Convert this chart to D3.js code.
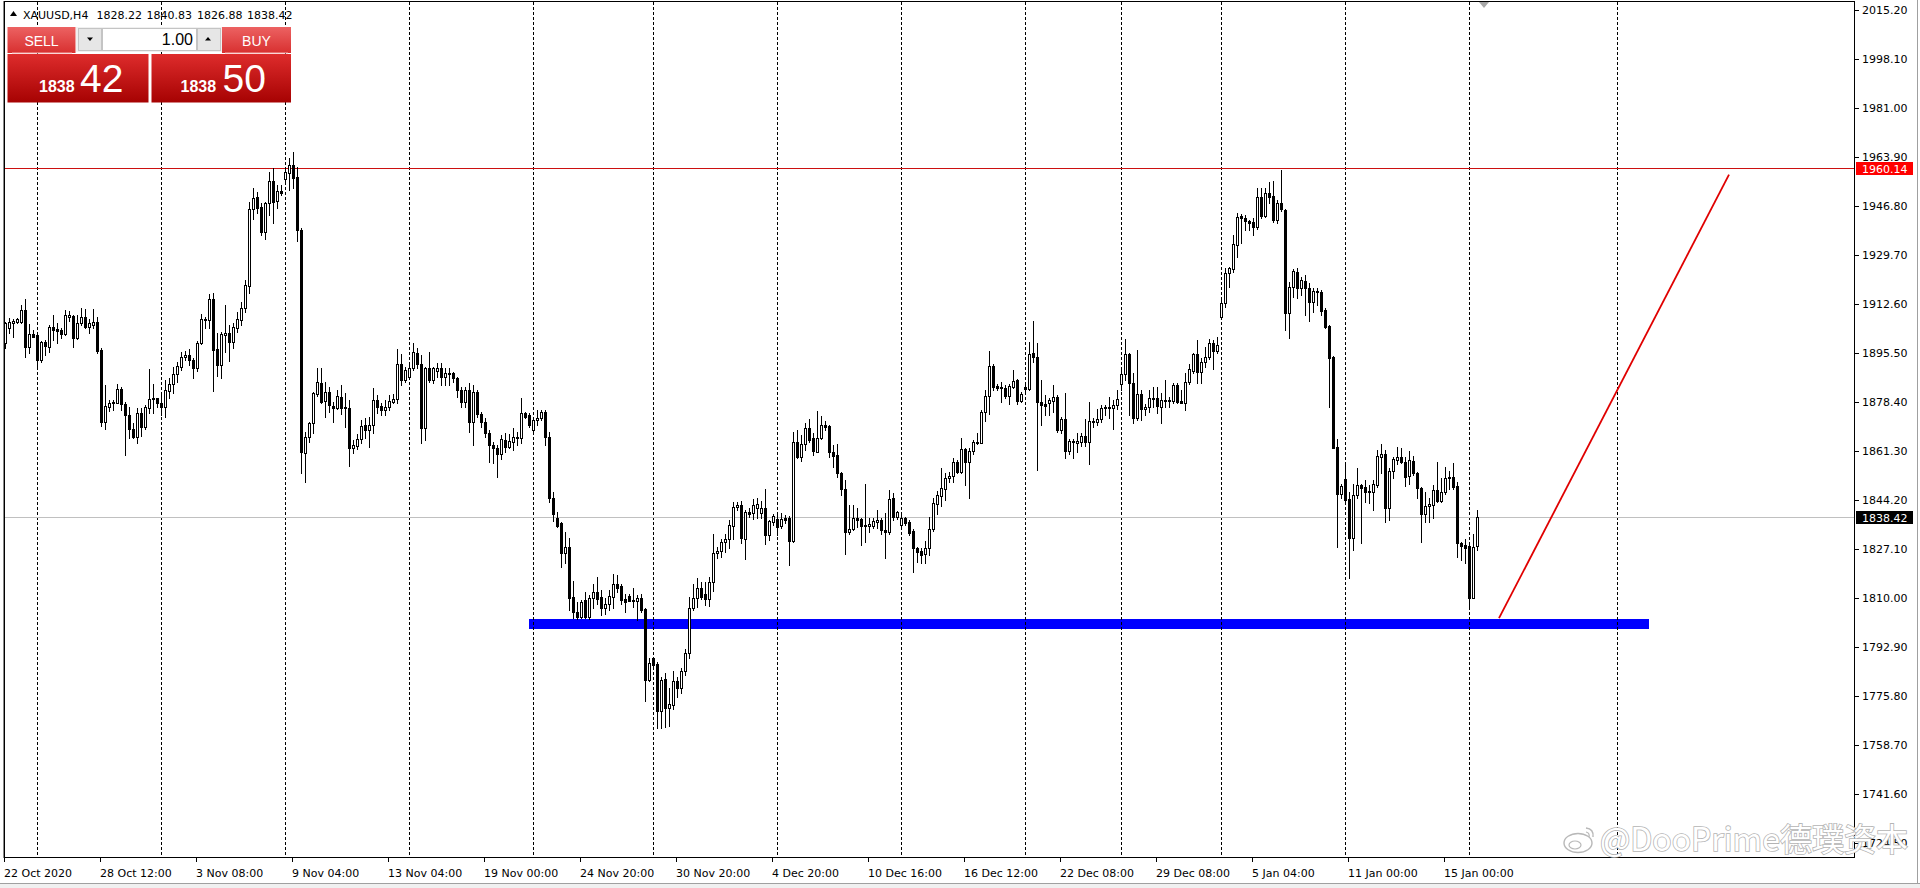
<!DOCTYPE html>
<html>
<head>
<meta charset="utf-8">
<script src="https://cdn.jsdelivr.net/npm/d3@7/dist/d3.min.js"></script>
<style>
  html, body { margin:0; padding:0; background:#fff; overflow:hidden; }
  svg { display:block; }
</style>
</head>
<body>
<svg id="chart" width="1920" height="888"></svg>
<script>
// ---------------- DATA ----------------
const symbol = "XAUUSD,H4";
const lastBarOHLC = ["1828.22", "1840.83", "1826.88", "1838.42"];
const lotSize = "1.00";
const bidPrice = ["1838", "42"];
const askPrice = ["1838", "50"];

const opens = [
1898.9,1904.2,1906.1,1906.5,1906.5,1910.6,1897.8,1902.1,1901.8,1893.1,
1899.5,1897.8,1904.7,1903.8,1903.6,1902.2,1908.2,1908.5,1900.7,1905.9,
1908.2,1904.7,1905.3,1906.5,1896.6,1871.6,1876.8,1878.0,1878.2,1882.9,
1877.8,1873.9,1868.9,1866.3,1874.5,1869.8,1876.2,1879.7,1879.7,1878.2,
1876.8,1882.4,1884.9,1888.2,1890.8,1894.0,1894.8,1893.1,1890.2,1898.9,
1907.0,1907.2,1914.4,1896.9,1891.4,1901.8,1902.4,1899.5,1904.4,1907.0,
1911.1,1919.1,1945.8,1950.1,1946.6,1937.9,1947.8,1955.6,1948.6,1952.1,
1956.3,1958.3,1961.0,1956.9,1938.5,1860.5,1866.3,1871.0,1881.1,1885.0,
1878.8,1882.0,1877.2,1876.5,1880.3,1876.8,1876.5,1862.5,1863.2,1865.5,
1870.4,1868.7,1870.6,1879.1,1877.2,1875.7,1876.8,1878.6,1879.5,1891.6,
1886.1,1887.3,1890.2,1895.4,1891.6,1869.3,1890.2,1886.1,1889.3,1890.2,
1887.3,1888.5,1888.5,1886.9,1882.6,1878.6,1882.6,1871.4,1881.8,1874.1,
1871.4,1867.8,1863.6,1862.5,1860.2,1865.2,1862.9,1864.6,1865.8,1865.8,
1874.5,1873.9,1868.7,1872.2,1873.0,1874.8,1866.3,1845.0,1838.1,1836.1,
1825.6,1827.9,1810.5,1805.3,1803.5,1809.3,1803.5,1809.9,1812.2,1810.5,
1806.4,1808.1,1810.5,1815.1,1814.2,1809.7,1810.8,1809.3,1809.0,1810.2,
1806.2,1781.4,1789.0,1786.9,1770.6,1781.8,1771.8,1772.7,1781.0,1778.5,
1784.5,1790.7,1806.4,1810.2,1813.6,1811.3,1809.7,1815.5,1825.6,1826.5,
1829.5,1830.6,1835.3,1841.7,1842.5,1830.6,1840.2,1839.6,1841.3,1839.6,
1841.3,1832.0,1836.7,1837.6,1835.3,1838.0,1838.0,1829.9,1864.4,1859.4,
1863.7,1869.5,1865.8,1861.1,1866.0,1870.4,1870.2,1860.9,1859.9,1853.5,
1848.1,1833.2,1834.1,1838.1,1837.6,1835.5,1835.3,1835.3,1836.7,1837.2,
1833.8,1833.0,1844.8,1838.4,1835.5,1838.1,1836.7,1833.4,1827.4,1826.4,
1825.3,1827.4,1834.1,1842.7,1845.7,1848.1,1851.8,1852.7,1857.6,1854.1,
1862.0,1857.6,1861.3,1864.0,1864.0,1874.8,1880.7,1891.1,1884.2,1883.8,
1883.4,1880.7,1883.8,1886.1,1878.8,1883.8,1883.0,1895.4,1894.3,1878.3,
1877.6,1878.0,1878.8,1880.3,1868.7,1872.5,1861.3,1864.8,1864.0,1864.6,
1866.7,1864.6,1871.6,1871.6,1872.5,1876.8,1876.8,1876.2,1877.4,1884.7,
1888.2,1895.2,1885.0,1872.7,1881.2,1875.9,1876.6,1879.4,1879.7,1876.8,
1879.1,1878.9,1878.9,1884.4,1878.9,1878.2,1885.5,1889.4,1895.2,1889.0,
1892.5,1894.0,1898.9,1896.3,1908.2,1912.9,1923.4,1924.8,1933.2,1943.4,
1942.6,1941.7,1941.4,1939.6,1950.1,1943.4,1951.5,1950.3,1942.0,1948.0,
1945.5,1909.6,1918.5,1924.0,1918.1,1920.7,1918.4,1913.5,1917.2,1916.9,
1910.6,1905.1,1894.3,1862.9,1846.2,1851.5,1844.6,1830.9,1846.0,1849.5,
1848.9,1847.3,1846.9,1849.5,1859.4,1860.2,1841.5,1854.4,1858.3,1859.4,
1857.6,1852.7,1857.8,1853.5,1848.5,1839.2,1842.3,1842.5,1847.7,1843.9,
1846.9,1852.0,1852.4,1849.2,1829.1,1828.5,1828.3,1810.1,1828.22
];
const highs = [
1906.5,1907.6,1907.3,1907.6,1912.3,1914.3,1905.7,1903.6,1902.4,1899.9,
1900.1,1905.3,1908.8,1906.1,1904.2,1910.6,1910.3,1908.9,1908.8,1911.1,
1910.8,1907.3,1910.8,1908.2,1897.2,1884.4,1879.1,1879.1,1884.9,1883.8,
1878.6,1876.8,1871.0,1876.2,1876.2,1877.4,1889.8,1884.9,1880.0,1881.5,
1886.1,1886.7,1890.5,1892.5,1896.0,1896.4,1897.0,1893.7,1899.7,1909.0,
1908.2,1916.0,1916.4,1902.4,1902.8,1912.3,1905.3,1905.9,1910.0,1913.5,
1921.0,1948.4,1953.0,1951.9,1947.8,1948.4,1958.6,1960.2,1954.2,1954.2,
1960.0,1963.5,1965.6,1960.6,1939.1,1868.1,1871.6,1882.1,1890.2,1890.2,
1885.3,1883.8,1878.6,1882.6,1884.4,1881.5,1879.1,1865.2,1867.2,1872.2,
1872.7,1873.3,1883.4,1880.9,1878.0,1879.1,1880.9,1881.1,1896.9,1895.1,
1890.8,1891.9,1898.9,1897.2,1894.9,1890.8,1895.8,1890.8,1891.9,1891.9,
1890.2,1890.2,1889.0,1887.3,1883.8,1883.8,1885.0,1884.4,1882.6,1875.1,
1872.7,1868.7,1864.6,1863.4,1866.9,1867.5,1867.2,1869.3,1868.1,1879.7,
1875.1,1874.5,1873.3,1875.7,1875.7,1875.7,1868.1,1847.0,1840.2,1836.7,
1833.2,1830.9,1816.0,1808.7,1809.3,1812.0,1811.1,1815.1,1817.5,1812.8,
1809.9,1812.8,1818.3,1818.1,1814.8,1811.6,1811.3,1813.6,1811.1,1811.3,
1806.7,1789.0,1789.6,1787.8,1782.6,1783.8,1778.5,1784.5,1782.6,1785.7,
1792.2,1810.5,1815.1,1817.1,1815.5,1815.7,1817.5,1832.3,1827.9,1830.6,
1832.3,1837.3,1843.6,1843.6,1843.9,1840.8,1841.3,1844.6,1845.0,1843.9,
1848.1,1837.3,1839.2,1839.6,1839.6,1839.0,1838.8,1867.9,1868.7,1866.9,
1871.0,1872.5,1867.5,1875.3,1873.7,1871.8,1870.6,1863.4,1863.7,1854.1,
1851.2,1842.5,1842.5,1841.3,1837.8,1849.7,1837.8,1837.8,1840.8,1838.1,
1839.6,1847.7,1846.6,1840.4,1839.0,1838.4,1837.3,1834.1,1827.9,1827.4,
1830.0,1838.4,1845.0,1847.4,1855.5,1853.5,1854.1,1858.8,1858.2,1866.0,
1862.5,1862.3,1865.2,1867.8,1875.6,1882.6,1896.2,1891.6,1884.9,1885.5,
1884.4,1884.9,1889.6,1886.5,1881.8,1884.4,1899.5,1906.7,1898.9,1886.1,
1880.9,1879.7,1884.4,1880.9,1873.3,1881.5,1865.5,1865.5,1867.5,1867.8,
1872.5,1878.6,1872.7,1876.0,1877.4,1877.4,1880.3,1879.1,1882.6,1889.6,
1900.3,1895.6,1888.5,1896.6,1882.8,1877.8,1882.6,1883.6,1883.6,1881.5,
1886.3,1880.1,1885.0,1885.0,1882.8,1888.5,1891.7,1895.6,1900.1,1893.7,
1897.8,1900.3,1900.1,1901.2,1914.6,1925.1,1925.4,1936.7,1944.5,1944.0,
1943.7,1942.0,1942.6,1953.0,1953.0,1953.0,1955.3,1955.7,1948.9,1959.4,
1945.7,1920.4,1924.7,1925.1,1922.2,1922.8,1919.9,1918.1,1918.1,1917.5,
1911.4,1905.3,1894.6,1865.5,1850.0,1856.5,1847.1,1850.0,1855.5,1850.0,
1851.2,1849.5,1851.2,1861.7,1863.7,1861.7,1855.3,1859.4,1862.9,1862.5,
1859.4,1861.3,1859.7,1854.1,1848.9,1847.1,1844.8,1849.5,1857.6,1851.8,
1855.9,1854.4,1857.0,1850.6,1829.5,1830.6,1828.8,1832.3,1840.83
];
const lows = [
1897.2,1902.4,1901.2,1906.1,1905.9,1894.3,1895.6,1901.0,1891.0,1892.5,
1894.8,1896.0,1900.1,1898.9,1900.7,1901.8,1906.8,1897.8,1900.3,1905.3,
1904.2,1902.4,1904.2,1895.6,1870.1,1869.2,1875.3,1875.6,1878.0,1875.6,
1859.9,1865.8,1865.8,1864.2,1866.6,1868.9,1874.5,1874.7,1876.8,1873.9,
1873.3,1879.7,1881.5,1885.5,1889.6,1893.1,1891.5,1886.9,1889.3,1898.6,
1904.2,1904.4,1882.3,1887.6,1886.9,1896.0,1892.8,1897.4,1903.0,1905.3,
1910.0,1916.4,1942.3,1944.3,1936.7,1935.4,1943.7,1940.8,1946.0,1950.7,
1955.4,1952.4,1953.0,1934.6,1853.5,1850.6,1864.6,1867.5,1880.7,1878.0,
1873.3,1875.1,1871.6,1876.0,1874.2,1869.8,1856.2,1860.5,1862.0,1864.0,
1865.8,1862.9,1867.5,1874.5,1873.9,1873.9,1875.7,1878.0,1878.0,1884.4,
1885.5,1886.7,1889.6,1890.2,1864.0,1865.2,1885.5,1885.0,1887.3,1884.4,
1884.4,1884.4,1885.5,1880.3,1876.8,1876.8,1868.1,1863.4,1873.3,1869.8,
1866.3,1857.6,1857.0,1852.4,1858.5,1860.9,1862.3,1861.7,1863.4,1864.0,
1872.7,1869.8,1867.9,1870.4,1872.2,1863.4,1843.5,1837.0,1834.9,1821.0,
1822.1,1805.9,1803.2,1802.7,1803.2,1802.9,1802.7,1806.4,1808.1,1804.1,
1804.3,1805.9,1806.4,1812.2,1808.1,1805.3,1808.9,1807.0,1802.4,1805.3,
1774.1,1781.1,1786.1,1764.5,1764.5,1765.1,1765.5,1771.3,1775.6,1776.8,
1783.2,1789.0,1805.8,1807.0,1809.7,1807.6,1807.4,1812.5,1824.1,1824.5,
1826.0,1827.6,1830.6,1840.8,1829.1,1823.7,1838.4,1837.6,1837.8,1837.8,
1828.8,1830.3,1835.5,1832.0,1834.4,1836.1,1821.6,1829.5,1858.8,1857.8,
1861.7,1864.6,1859.9,1860.9,1865.5,1868.7,1859.4,1855.9,1852.4,1846.0,
1825.3,1832.3,1833.8,1835.0,1828.5,1829.7,1833.2,1834.4,1834.4,1832.3,
1823.9,1832.3,1837.3,1837.6,1834.4,1835.5,1832.0,1819.0,1822.7,1822.1,
1822.1,1825.0,1833.4,1839.2,1842.3,1844.2,1850.4,1850.6,1853.5,1853.5,
1849.5,1844.8,1860.2,1863.7,1864.0,1871.8,1874.1,1882.6,1882.6,1878.3,
1880.0,1877.6,1883.2,1877.9,1878.3,1881.5,1882.6,1892.5,1854.7,1870.4,
1873.9,1873.9,1875.1,1868.1,1867.5,1859.0,1860.2,1858.8,1861.1,1863.2,
1863.2,1856.7,1869.8,1870.4,1871.3,1873.9,1872.7,1869.2,1875.9,1882.6,
1886.1,1873.9,1871.0,1872.2,1872.2,1873.9,1875.1,1876.8,1874.7,1871.2,
1876.8,1876.8,1878.2,1878.0,1878.0,1875.6,1884.7,1888.5,1885.2,1885.2,
1890.5,1893.3,1889.8,1895.7,1908.2,1911.7,1918.7,1923.9,1929.2,1933.8,
1938.5,1938.5,1936.7,1939.0,1942.6,1943.1,1947.8,1941.4,1940.8,1945.2,
1903.6,1900.7,1915.2,1914.6,1915.8,1908.8,1906.7,1910.0,1912.3,1908.8,
1904.2,1876.8,1862.3,1828.0,1844.8,1843.6,1816.9,1826.8,1844.8,1829.1,
1843.7,1843.1,1840.7,1848.9,1853.5,1836.7,1837.3,1851.8,1856.7,1857.0,
1849.2,1849.7,1852.9,1844.8,1829.7,1836.7,1836.4,1837.8,1843.4,1843.4,
1846.2,1848.1,1848.1,1824.5,1823.3,1822.1,1807.4,1809.9,1826.88
];
const closes = [
1905.9,1906.5,1906.8,1907.3,1910.6,1897.8,1902.2,1901.2,1893.1,1899.5,
1898.0,1904.7,1903.6,1903.3,1902.2,1908.8,1908.9,1900.7,1906.1,1908.0,
1904.7,1905.9,1906.5,1896.2,1871.6,1877.0,1878.2,1878.5,1882.9,1877.8,
1873.9,1868.9,1866.3,1874.5,1869.8,1876.6,1879.4,1879.4,1878.2,1876.8,
1882.6,1884.9,1888.4,1891.0,1894.0,1894.8,1893.1,1890.2,1898.9,1907.4,
1907.4,1914.4,1896.6,1891.4,1902.1,1902.4,1899.5,1904.7,1907.4,1911.1,
1919.3,1945.8,1949.8,1946.3,1937.7,1947.8,1955.6,1948.4,1952.1,1951.3,
1958.6,1961.0,1956.7,1938.5,1861.1,1866.3,1871.0,1881.5,1885.3,1878.6,
1882.0,1877.4,1876.5,1880.6,1876.5,1876.2,1862.5,1863.4,1865.5,1870.2,
1868.7,1870.6,1879.1,1876.8,1875.7,1876.8,1878.8,1879.5,1891.6,1886.1,
1889.6,1890.2,1895.8,1891.6,1869.3,1890.2,1886.1,1890.2,1890.2,1887.3,
1888.5,1888.1,1886.7,1882.6,1878.6,1882.6,1871.4,1881.8,1874.1,1871.4,
1867.8,1863.4,1862.5,1860.2,1865.5,1862.9,1864.8,1866.3,1866.3,1874.5,
1873.3,1870.4,1872.2,1873.0,1874.8,1866.3,1845.0,1839.5,1835.3,1825.6,
1827.9,1810.2,1805.3,1803.5,1808.7,1803.5,1809.9,1812.2,1809.7,1806.4,
1808.1,1810.7,1815.1,1813.6,1809.3,1808.7,1809.0,1809.0,1810.2,1805.9,
1781.4,1787.2,1786.7,1770.6,1781.4,1771.8,1773.0,1781.0,1778.5,1784.5,
1790.7,1806.4,1810.2,1813.6,1810.5,1809.7,1815.5,1825.6,1826.5,1829.7,
1830.6,1835.5,1841.9,1842.5,1830.9,1840.2,1839.5,1842.5,1842.7,1841.3,
1832.0,1836.9,1838.8,1834.9,1837.6,1837.2,1829.9,1864.4,1859.4,1863.7,
1869.5,1865.2,1861.3,1866.0,1870.4,1869.8,1860.9,1859.7,1853.5,1848.1,
1833.2,1834.1,1838.1,1837.3,1835.3,1835.3,1835.8,1836.9,1837.2,1833.8,
1833.2,1844.6,1838.4,1839.9,1838.1,1836.1,1832.6,1827.4,1826.2,1825.0,
1827.4,1834.1,1843.1,1846.0,1848.3,1852.0,1852.7,1857.6,1854.1,1862.0,
1857.6,1861.3,1864.4,1864.6,1874.8,1880.7,1891.1,1883.8,1883.4,1883.2,
1880.7,1884.1,1885.8,1878.8,1881.1,1883.0,1895.1,1894.3,1878.3,1877.4,
1877.2,1879.1,1880.3,1868.7,1872.5,1861.3,1864.8,1864.4,1864.8,1866.7,
1864.6,1871.8,1871.8,1872.5,1876.2,1876.2,1876.2,1877.4,1879.4,1888.2,
1895.2,1885.0,1872.7,1881.2,1875.9,1876.8,1879.7,1879.9,1877.0,1879.1,
1878.9,1879.1,1884.4,1878.6,1878.2,1885.5,1889.9,1895.2,1889.0,1892.5,
1894.0,1898.9,1896.3,1898.3,1912.9,1923.4,1925.1,1933.6,1942.9,1942.6,
1941.7,1941.0,1939.6,1950.1,1943.4,1951.5,1949.9,1942.0,1947.8,1945.7,
1909.6,1918.5,1924.3,1918.1,1921.0,1918.4,1913.5,1917.2,1916.7,1910.2,
1904.7,1893.9,1862.5,1846.2,1849.3,1844.2,1830.9,1846.0,1849.5,1848.5,
1846.9,1846.9,1849.7,1859.7,1860.2,1841.5,1854.4,1858.5,1859.4,1857.4,
1852.4,1858.2,1853.5,1848.5,1839.2,1842.3,1842.7,1847.7,1843.9,1846.9,
1852.0,1852.4,1848.9,1829.1,1828.3,1827.4,1810.1,1827.9,1838.42
];

const priceTicks = [2015.20,1998.10,1981.00,1963.90,1946.80,1929.70,1912.60,1895.50,1878.40,
                    1861.30,1844.20,1827.10,1810.00,1792.90,1775.80,1758.70,1741.60,1724.50];
const timeLabels = ["22 Oct 2020","28 Oct 12:00","3 Nov 08:00","9 Nov 04:00","13 Nov 04:00",
                    "19 Nov 00:00","24 Nov 20:00","30 Nov 20:00","4 Dec 20:00","10 Dec 16:00",
                    "16 Dec 12:00","22 Dec 08:00","29 Dec 08:00","5 Jan 04:00","11 Jan 00:00","15 Jan 00:00"];
const timeLabelBars = [0,24,48,72,96,120,144,168,192,216,240,264,288,312,336,360];
const weekStartBars = [8,39,70,101,132,162,193,224,255,279,304,335,366,403];

const resistanceLevel = 1960.14;
const currentPrice = 1838.42;
const supportZoneBars = [131, 411];
const supportZonePrices = [1802.6, 1799.4];
const trendBars = [373.5, 431];
const trendPrices = [1803.0, 1957.8];
const watermark = "@DooPrime德璞资本";

// ---------------- DRAW ----------------
const svg = d3.select("#chart");
const AX = "'DejaVu Sans', Verdana, sans-serif";
const AR = "'Liberation Sans', Arial, sans-serif";

const x = d3.scaleLinear().domain([-1.25, 462.25]).range([0, 1854]);
const y = d3.scaleLinear().domain([1724.5, 2015.2]).range([843.1, 10.2]);
const px = v => Math.round(x(v));
const py = v => Math.round(y(v));

const defs = svg.append("defs");
defs.append("clipPath").attr("id","plotClip").append("rect")
  .attr("x",4).attr("y",2).attr("width",1850).attr("height",855);
const gh = defs.append("linearGradient").attr("id","gHead").attr("x1",0).attr("y1",0).attr("x2",0).attr("y2",1);
gh.append("stop").attr("offset",0).attr("stop-color","#ec6262");
gh.append("stop").attr("offset",1).attr("stop-color","#d83030");
const gb = defs.append("linearGradient").attr("id","gBox").attr("x1",0).attr("y1",0).attr("x2",0).attr("y2",1);
gb.append("stop").attr("offset",0).attr("stop-color","#de2c2c");
gb.append("stop").attr("offset",1).attr("stop-color","#a60202");

// background & window edges
svg.append("rect").attr("width",1920).attr("height",888).attr("fill","#fff");
svg.append("rect").attr("x",0).attr("y",883).attr("width",1920).attr("height",5).attr("fill","#f0f0f0");
svg.append("line").attr("x1",0).attr("x2",1920).attr("y1",883.5).attr("y2",883.5).attr("stroke","#a0a0a0");
svg.append("line").attr("x1",1917.5).attr("x2",1917.5).attr("y1",0).attr("y2",884).attr("stroke","#a0a0a0");

// header text (drawn under grid so dotted lines cross it, like MT4)
const hdr = svg.append("g").attr("font-family",AX).attr("font-size",11).attr("fill","#000");
hdr.append("path").attr("d","M10,16 L13.5,11 L17,16 Z").attr("fill","#000");
hdr.append("text").attr("x",23).attr("y",19).text(symbol);
const hdrX = [96.5,146.5,197,247];
hdr.selectAll("text.v").data(lastBarOHLC).join("text").attr("class","v")
  .attr("x",(d,i)=>hdrX[i]).attr("y",19).text(d=>d);

const plot = svg.append("g").attr("clip-path","url(#plotClip)");

// support zone (background object)
plot.append("rect").attr("shape-rendering","crispEdges")
  .attr("x",px(supportZoneBars[0])).attr("width",px(supportZoneBars[1])-px(supportZoneBars[0]))
  .attr("y",py(supportZonePrices[0])).attr("height",py(supportZonePrices[1])-py(supportZonePrices[0]))
  .attr("fill","#0000ff");

// vertical dotted grid
plot.append("g").selectAll("line").data(weekStartBars).join("line")
  .attr("x1",d=>px(d)+0.5).attr("x2",d=>px(d)+0.5).attr("y1",2).attr("y2",857)
  .attr("stroke","#000").attr("stroke-width",1).attr("stroke-dasharray","3,2");

// current price line & resistance line
plot.append("line").attr("x1",4).attr("x2",1854).attr("y1",py(currentPrice)+0.5).attr("y2",py(currentPrice)+0.5)
  .attr("stroke","#c0c0c0");
plot.append("line").attr("x1",4).attr("x2",1854).attr("y1",py(resistanceLevel)+0.5).attr("y2",py(resistanceLevel)+0.5)
  .attr("stroke","#cc1010");

// candles
const candles = d3.range(opens.length).map(i => ({i, o:opens[i], h:highs[i], l:lows[i], c:closes[i]}));
const cg = plot.append("g").attr("shape-rendering","crispEdges");
const cs = cg.selectAll("g").data(candles).join("g");
cs.append("rect").attr("x",d=>px(d.i)).attr("y",d=>py(d.h)).attr("width",1)
  .attr("height",d=>Math.max(1,py(d.l)-py(d.h)+1)).attr("fill","#000");
cs.append("rect").attr("x",d=>px(d.i)-1).attr("y",d=>Math.min(py(d.o),py(d.c))).attr("width",3)
  .attr("height",d=>Math.max(1,Math.abs(py(d.o)-py(d.c))+1)).attr("fill","#000");
cs.filter(d=>d.c>d.o && Math.abs(py(d.o)-py(d.c))>=2).append("rect")
  .attr("x",d=>px(d.i)).attr("y",d=>py(d.c)+1).attr("width",1)
  .attr("height",d=>py(d.o)-py(d.c)-1).attr("fill","#fff");

// trend line
plot.append("line").attr("x1",x(trendBars[0])).attr("y1",y(trendPrices[0]))
  .attr("x2",x(trendBars[1])).attr("y2",y(trendPrices[1]))
  .attr("stroke","#e00000").attr("stroke-width",1.8);

// shift marker
svg.append("path").attr("d","M1479,2 L1489,2 L1484,8 Z").attr("fill","#a8a8a8");

// frame
svg.append("rect").attr("x",4.5).attr("y",1.5).attr("width",1850).attr("height",856)
  .attr("fill","none").attr("stroke","#000").attr("shape-rendering","crispEdges");
svg.append("line").attr("x1",3.5).attr("x2",3.5).attr("y1",1).attr("y2",858).attr("stroke","#8a8a8a");

// price axis
const pa = svg.append("g").attr("font-family",AX).attr("font-size",11);
pa.selectAll("line").data(priceTicks).join("line")
  .attr("x1",1855).attr("x2",1859).attr("y1",d=>py(d)+0.5).attr("y2",d=>py(d)+0.5).attr("stroke","#000");
pa.selectAll("text").data(priceTicks).join("text")
  .attr("x",1862).attr("y",d=>y(d)+4).attr("fill","#000").text(d=>d3.format(".2f")(d));

const tags = [{p:resistanceLevel, bg:"#ff0000"}, {p:currentPrice, bg:"#000000"}];
const tg = svg.append("g").attr("font-family",AX).attr("font-size",11);
tg.selectAll("rect").data(tags).join("rect")
  .attr("x",1856).attr("y",d=>py(d.p)-6).attr("width",57).attr("height",13).attr("fill",d=>d.bg);
tg.selectAll("text").data(tags).join("text")
  .attr("x",1862).attr("y",d=>py(d.p)+5).attr("fill","#fff").text(d=>d3.format(".2f")(d.p));

// time axis
const ta = svg.append("g").attr("font-family",AX).attr("font-size",11).attr("fill","#000");
ta.selectAll("line").data(timeLabelBars).join("line")
  .attr("x1",d=>px(d)-0.5).attr("x2",d=>px(d)-0.5).attr("y1",858).attr("y2",862).attr("stroke","#000");
ta.selectAll("text").data(timeLabels).join("text")
  .attr("x",(d,i)=>px(timeLabelBars[i])-1).attr("y",877).text(d=>d);

// one-click trading panel
const pn = svg.append("g");
pn.append("rect").attr("x",7.5).attr("y",27).attr("width",68).attr("height",26).attr("fill","url(#gHead)");
pn.append("rect").attr("x",222).attr("y",27).attr("width",69).attr("height",26).attr("fill","url(#gHead)");
pn.append("rect").attr("x",76).attr("y",27).attr("width",146).attr("height",25).attr("fill","#f0f0f0");
pn.append("rect").attr("x",78.5).attr("y",28.5).attr("width",23).attr("height",22).attr("fill","#e6e6e6").attr("stroke","#c4c4c4");
pn.append("rect").attr("x",102.5).attr("y",28.5).attr("width",94).attr("height",22).attr("fill","#fff").attr("stroke","#c4c4c4");
pn.append("rect").attr("x",197.5).attr("y",28.5).attr("width",23).attr("height",22).attr("fill","#e6e6e6").attr("stroke","#c4c4c4");
pn.append("path").attr("d","M87,37.5 L93,37.5 L90,41 Z").attr("fill","#000");
pn.append("path").attr("d","M205,40.5 L211,40.5 L208,37 Z").attr("fill","#000");
pn.append("text").attr("x",193).attr("y",45).attr("text-anchor","end").attr("font-family",AR)
  .attr("font-size",16).attr("fill","#000").text(lotSize);
pn.append("rect").attr("x",7.5).attr("y",54).attr("width",141).attr("height",48.5).attr("fill","url(#gBox)");
pn.append("rect").attr("x",151.5).attr("y",54).attr("width",139.5).attr("height",48.5).attr("fill","url(#gBox)");
pn.append("line").attr("x1",12).attr("x2",72).attr("y1",53).attr("y2",53).attr("stroke","#f5b0b0");
pn.append("line").attr("x1",225).attr("x2",288).attr("y1",53).attr("y2",53).attr("stroke","#f5b0b0");
pn.append("text").attr("x",41.5).attr("y",46).attr("text-anchor","middle").attr("font-family",AR)
  .attr("font-size",14).attr("fill","#fff").text("SELL");
pn.append("text").attr("x",256.5).attr("y",46).attr("text-anchor","middle").attr("font-family",AR)
  .attr("font-size",14).attr("fill","#fff").text("BUY");
const quotes = [{v:bidPrice, x0:39, x1:80}, {v:askPrice, x0:180.5, x1:222.5}];
quotes.forEach(q => {
  pn.append("text").attr("x",q.x0).attr("y",91.5).attr("font-family",AR).attr("font-weight","bold")
    .attr("font-size",16).attr("fill","#fff").text(q.v[0]);
  pn.append("text").attr("x",q.x1).attr("y",92).attr("font-family",AR)
    .attr("font-size",39).attr("fill","#fff").text(q.v[1]);
});

// watermark
const wm = svg.append("g");
wm.append("ellipse").attr("cx",1578).attr("cy",843).attr("rx",14).attr("ry",9.5)
  .attr("fill","#fff").attr("stroke","#b8b8b8").attr("stroke-width",1.4);
wm.append("ellipse").attr("cx",1575).attr("cy",845).attr("rx",6).attr("ry",4)
  .attr("fill","none").attr("stroke","#b8b8b8").attr("stroke-width",1.2);
wm.append("path").attr("d","M1586,828 Q1594,829 1593,837").attr("fill","none").attr("stroke","#b8b8b8").attr("stroke-width",1.4);
wm.append("path").attr("d","M1586,832 Q1590,833 1589,837").attr("fill","none").attr("stroke","#b8b8b8").attr("stroke-width",1.2);
wm.append("text").attr("x",1600).attr("y",851).attr("font-family","'Noto Sans CJK SC', sans-serif")
  .attr("font-size",32).attr("fill","#fff").attr("stroke","#b4b4b4").attr("stroke-width",1.6)
  .attr("paint-order","stroke").text(watermark);
</script>
</body>
</html>
